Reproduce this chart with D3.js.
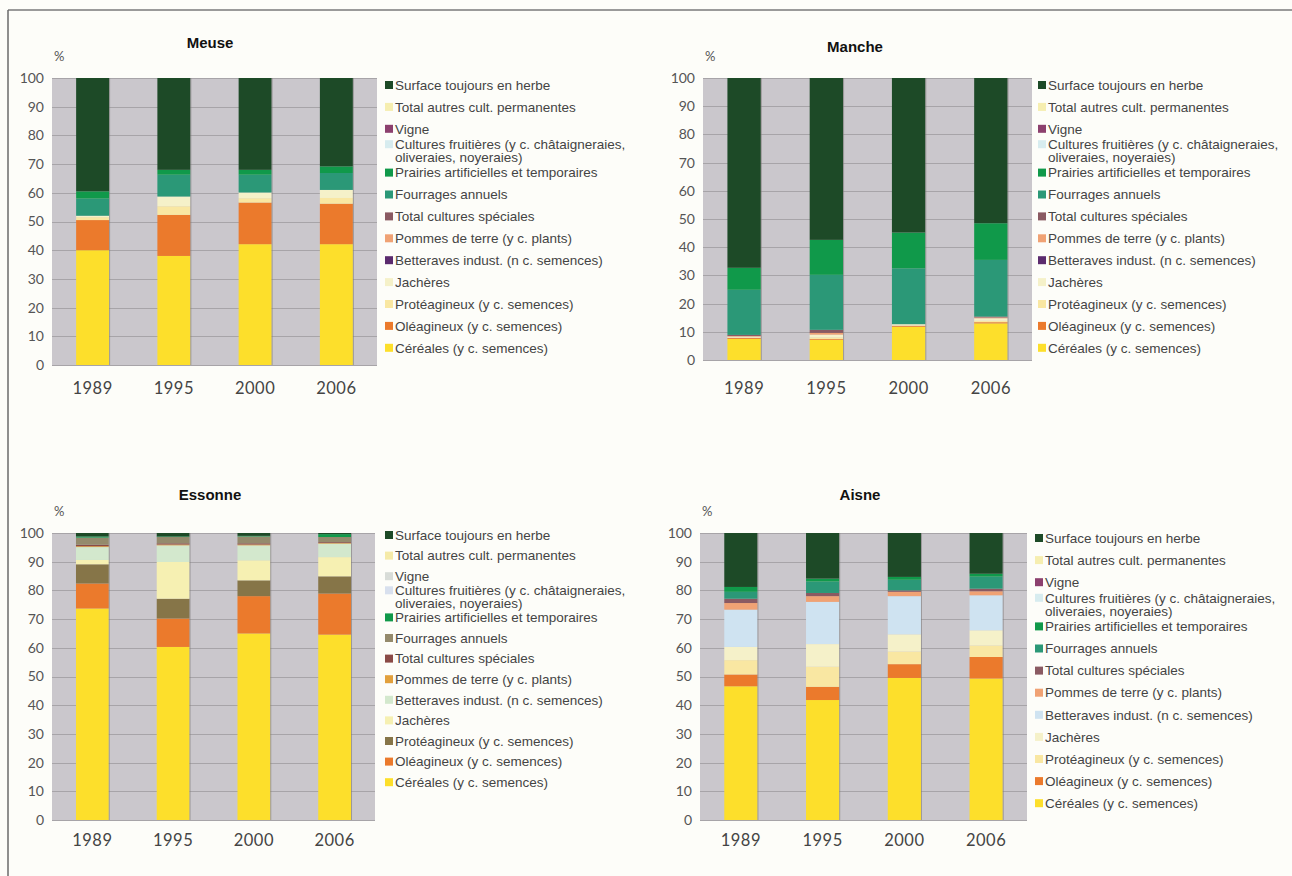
<!DOCTYPE html>
<html>
<head>
<meta charset="utf-8">
<script src="https://cdn.jsdelivr.net/npm/d3@7"></script>
<style>
  body { margin: 0; background: #fdfdf9; }
  svg { display: block; }
</style>
</head>
<body>
<svg id="root"></svg>
<script>
const years = ["1989", "1995", "2000", "2006"];

// series, bottom of the stack first
const series = [
  "Céréales (y c. semences)",
  "Oléagineux (y c. semences)",
  "Protéagineux (y c. semences)",
  "Jachères",
  "Betteraves indust. (n c. semences)",
  "Pommes de terre (y c. plants)",
  "Total cultures spéciales",
  "Fourrages annuels",
  "Prairies artificielles et temporaires",
  "Cultures fruitières (y c. châtaigneraies,|oliveraies, noyeraies)",
  "Vigne",
  "Total autres cult. permanentes",
  "Surface toujours en herbe"
];

const yTicks = [0, 10, 20, 30, 40, 50, 60, 70, 80, 90, 100];

// one row per year, same order as series (% of surface)
const meuse = [
  [40.0, 10.5, 1.0, 0.5, 0, 0, 0, 6.0, 2.5, 0, 0, 0, 39.5],
  [38.0, 14.3, 3.0, 3.4, 0, 0, 0, 7.6, 1.7, 0, 0, 0, 32.0],
  [42.1, 14.5, 1.5, 2.0, 0, 0, 0, 6.2, 1.7, 0, 0, 0, 32.0],
  [42.1, 14.1, 2.0, 2.8, 0, 0, 0, 5.9, 2.3, 0, 0, 0, 30.8]
];
const manche = [
  [7.5, 0.3, 0.2, 0.3, 0, 0.2, 0.4, 16.0, 7.8, 0, 0, 0, 67.3],
  [7.1, 0.3, 0.6, 1.0, 0, 0.6, 1.1, 19.5, 12.4, 0, 0, 0, 57.4],
  [11.8, 0.3, 0.2, 0.4, 0, 0, 0, 19.8, 12.7, 0, 0, 0, 54.8],
  [13.0, 0.4, 0.5, 0.9, 0, 0.3, 0.3, 20.1, 13.0, 0, 0, 0, 51.5]
];
const essonne = [
  [73.7, 8.7, 6.7, 1.5, 4.5, 0.3, 0.5, 2.5, 0.4, 0, 0, 0, 1.2],
  [60.3, 9.9, 6.9, 12.8, 5.8, 0.3, 0.4, 2.2, 0.2, 0, 0, 0, 1.2],
  [65.0, 13.0, 5.5, 7.0, 5.2, 0.3, 0.4, 2.4, 0.2, 0, 0, 0, 1.0],
  [64.6, 14.3, 6.0, 6.7, 4.7, 0.2, 0.3, 1.8, 1.0, 0, 0, 0, 0.4]
];
const aisne = [
  [46.6, 4.1, 5.0, 4.6, 13.0, 2.3, 1.5, 2.4, 1.7, 0, 0, 0, 18.8],
  [41.8, 4.6, 7.0, 7.9, 14.7, 2.0, 1.1, 4.0, 1.0, 0, 0, 0, 15.9],
  [49.5, 4.8, 4.4, 6.0, 13.3, 1.5, 0.5, 3.7, 1.0, 0, 0, 0, 15.3],
  [49.3, 7.5, 4.0, 5.3, 12.2, 1.4, 0.9, 4.2, 1.0, 0, 0, 0, 14.2]
];

// colour sets, same order as series
const baseColors = ["#fddf2b", "#eb7a2c", "#f9e7a2", "#f5f1c9", "#5b2b6e", "#f0a274",
  "#8a5a62", "#2b9877", "#10994a", "#d7ecef", "#8c406e", "#f6eeb0", "#1d4a27"];
const aisneColors = baseColors.map((c, i) => i === 4 ? "#cfe3f1" : c);
const essonneColors = ["#fddf2b", "#eb7a2c", "#867548", "#f6f0b2", "#d3e8cd", "#e2a03c",
  "#8a4a46", "#948a6c", "#10994a", "#d8e0ee", "#d8dcd8", "#f5eaa8", "#1d4a27"];

const panels = [
  { title: "Meuse", rows: meuse, colors: baseColors,
    x0: 52, x1: 377, y0: 78, y1: 365, tx: 210, ty: 44, lx: 385, ly: 85, ls: 21.9, yearY: 388 },
  { title: "Manche", rows: manche, colors: baseColors,
    x0: 703, x1: 1032, y0: 78, y1: 360, tx: 855, ty: 48, lx: 1038, ly: 85, ls: 21.9, yearY: 388 },
  { title: "Essonne", rows: essonne, colors: essonneColors,
    x0: 52, x1: 375, y0: 533, y1: 820, tx: 210, ty: 496, lx: 385, ly: 535, ls: 20.6, yearY: 840 },
  { title: "Aisne", rows: aisne, colors: aisneColors,
    x0: 700, x1: 1027, y0: 533, y1: 820, tx: 860, ty: 496, lx: 1035, ly: 538, ls: 22.1, yearY: 840 }
];

const width = 1292;
const height = 876;
const svg = d3.select("#root").attr("width", width).attr("height", height);

svg.append("rect").attr("width", width).attr("height", height).attr("fill", "#fdfdf9");
// frame
svg.append("line").attr("x1", 8).attr("x2", width).attr("y1", 10).attr("y2", 10)
  .attr("stroke", "#9a9a9a").attr("stroke-width", 2);
svg.append("line").attr("x1", 8).attr("x2", 8).attr("y1", 10).attr("y2", height)
  .attr("stroke", "#6a6a6a").attr("stroke-width", 1.5);

const keys = series.map((s, i) => i);
const stack = d3.stack().keys(keys);

const drawPanel = (p) => {
  const g = svg.append("g");
  const data = p.rows.map((r, i) => {
    const o = { year: years[i] };
    r.forEach((v, k) => o[k] = v);
    return o;
  });

  const x = d3.scaleBand().domain(years).range([p.x0, p.x1])
    .paddingInner(0.594).paddingOuter(0.297);
  const y = d3.scaleLinear().domain([0, 100]).range([p.y1, p.y0]);

  g.append("rect")
    .attr("x", p.x0).attr("y", p.y0)
    .attr("width", p.x1 - p.x0).attr("height", p.y1 - p.y0)
    .attr("fill", "#cac7cc");

  // gridlines
  g.append("g").selectAll("line").data(yTicks).enter().append("line")
    .attr("x1", p.x0).attr("x2", p.x1)
    .attr("y1", d => Math.round(y(d)) + 0.5).attr("y2", d => Math.round(y(d)) + 0.5)
    .attr("stroke", "#a7a4a8").attr("stroke-width", 1);

  // stacked bars
  g.append("g").selectAll("g").data(stack(data)).enter().append("g")
    .attr("fill", s => p.colors[s.key])
    .selectAll("rect").data(s => s).enter().append("rect")
    .attr("x", d => x(d.data.year))
    .attr("width", x.bandwidth())
    .attr("y", d => y(d[1]))
    .attr("height", d => Math.max(0, y(d[0]) - y(d[1])));

  // thin shadow on the right edge of each bar
  g.append("g").selectAll("line").data(years).enter().append("line")
    .attr("x1", d => x(d) + x.bandwidth() + 0.5).attr("x2", d => x(d) + x.bandwidth() + 0.5)
    .attr("y1", p.y0).attr("y2", p.y1)
    .attr("stroke", "#7d7a78").attr("stroke-opacity", 0.6);

  // y axis labels
  const yAxis = d3.axisLeft(y).tickValues(yTicks).tickSize(0).tickPadding(8);
  const ya = g.append("g").attr("transform", `translate(${p.x0},0)`).call(yAxis);
  ya.select(".domain").remove();
  ya.selectAll("text")
    .attr("font-family", "Lato, 'Open Sans', sans-serif")
    .attr("font-size", 14).attr("fill", "#555");

  // year labels
  const xAxis = d3.axisBottom(x).tickSize(0).tickPadding(0);
  const xa = g.append("g").attr("transform", `translate(0,${p.yearY - 6})`).call(xAxis);
  xa.select(".domain").remove();
  xa.selectAll("text")
    .attr("font-family", "Lato, 'Open Sans', sans-serif")
    .attr("font-size", 16.5).attr("fill", "#444").attr("letter-spacing", 0.5);

  g.append("text").attr("x", p.tx).attr("y", p.ty)
    .attr("text-anchor", "middle").attr("dominant-baseline", "middle")
    .attr("font-family", "'Liberation Sans', Arial, sans-serif")
    .attr("font-weight", "bold").attr("font-size", 15).attr("fill", "#111")
    .text(p.title);

  g.append("text").attr("x", p.x0 + 2).attr("y", p.y0 - 20)
    .attr("dominant-baseline", "middle")
    .attr("font-family", "Lato, sans-serif").attr("font-size", 13).attr("fill", "#555")
    .text("%");

  // legend, top of the stack first
  const items = keys.slice().reverse();
  const leg = g.append("g").selectAll("g").data(items).enter().append("g")
    .attr("transform", (k, i) => `translate(${p.lx},${p.ly + i * p.ls})`);
  leg.append("rect")
    .attr("x", 0).attr("y", (k) => series[k].includes("|") ? -10.5 : -4)
    .attr("width", 8).attr("height", 8)
    .attr("fill", k => p.colors[k]);
  leg.append("text")
    .attr("font-family", "'Liberation Sans', Arial, sans-serif")
    .attr("font-size", 13.5).attr("fill", "#444")
    .selectAll("tspan").data(k => series[k].split("|").map((t, j, a) => ({ t, j, n: a.length })))
    .enter().append("tspan")
    .attr("x", 10)
    .attr("y", d => d.n > 1 ? (d.j === 0 ? -6.5 : 6.5) : 0)
    .attr("dy", "0.35em")
    .text(d => d.t);
};

panels.forEach(drawPanel);
</script>
</body>
</html>
